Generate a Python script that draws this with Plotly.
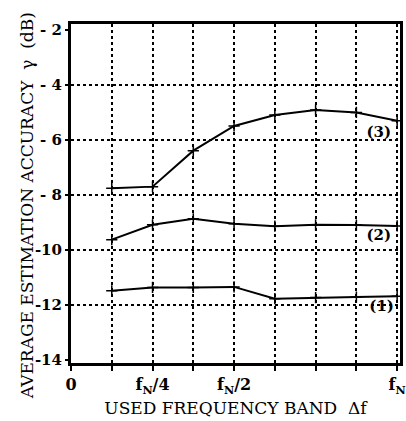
import plotly.graph_objects as go

# x positions in units of fN/8
x_pos = [1, 2, 3, 4, 5, 6, 7, 8]
curve1 = [-11.49, -11.37, -11.37, -11.35, -11.78, -11.74, -11.72, -11.69]
curve2 = [-9.63, -9.09, -8.87, -9.05, -9.14, -9.09, -9.10, -9.13]
curve3 = [-7.76, -7.70, -6.39, -5.49, -5.09, -4.91, -5.00, -5.30]

x_tickvals = [0, 2, 4, 8]
x_ticktext = ["0", "f<sub>N</sub>/4", "f<sub>N</sub>/2", "f<sub>N</sub>"]
y_tickvals = [-2, -4, -6, -8, -10, -12, -14]
y_ticktext = ["- 2", "- 4", "- 6", "- 8", "-10", "-12", "-14"]
y_gridvals = [-4, -6, -8, -10, -12]

labels = ["(1)", "(2)", "(3)"]
label_x = [7.62, 7.55, 7.55]
label_y = [-12.08, -9.52, -5.75]

FONT = "DejaVu Serif"
Y_RANGE = [-14.12, -1.78]

fig = go.Figure()
for ys in (curve1, curve2, curve3):
    fig.add_trace(go.Scatter(
        x=x_pos, y=ys, mode="lines+markers",
        line=dict(color="black", width=2),
        marker=dict(symbol="cross-thin", size=8, line=dict(color="black", width=1.5)),
        showlegend=False, cliponaxis=False,
    ))

fig.add_trace(go.Scatter(
    x=label_x, y=label_y, mode="text", text=labels,
    textfont=dict(family=FONT, size=15, color="black", weight="bold"),
    showlegend=False,
))

# invisible helper trace so the grid-only overlay axis is drawn
fig.add_trace(go.Scatter(
    x=[4], y=[-8], yaxis="y2", mode="markers",
    marker=dict(opacity=0), hoverinfo="skip", showlegend=False,
))

fig.update_layout(
    width=406, height=421,
    margin=dict(l=71, r=0, t=24, b=58),
    paper_bgcolor="white", plot_bgcolor="white",
    font=dict(family=FONT, color="black"),
    xaxis=dict(
        range=[0, 8.07], tickmode="array", tickvals=x_tickvals, ticktext=x_ticktext,
        ticklabeloverflow="allow",
        showgrid=True, gridcolor="black", gridwidth=2, griddash="dot",
        minor=dict(dtick=1, tick0=0, showgrid=True, gridcolor="black", gridwidth=2,
                   griddash="dot", ticks="outside", ticklen=5, tickwidth=2, tickcolor="black"),
        zeroline=False, showline=True, linecolor="black", linewidth=3,
        ticks="outside", ticklen=5, tickwidth=2, tickcolor="black",
        tickfont=dict(family=FONT, size=16, color="black", weight="bold"),
        title=dict(text="USED FREQUENCY BAND  \u0394f", standoff=7,
                   font=dict(family=FONT, size=17, color="black")),
        mirror=True,
    ),
    yaxis=dict(
        range=Y_RANGE, tickmode="array", tickvals=y_tickvals, ticktext=y_ticktext,
        showgrid=False, zeroline=False, showline=True, linecolor="black", linewidth=3,
        ticks="outside", ticklen=3, tickwidth=2, tickcolor="black",
        tickfont=dict(family=FONT, size=15, color="black", weight="bold"),
        mirror=True,
    ),
    yaxis2=dict(
        overlaying="y", range=Y_RANGE,
        tickmode="array", tickvals=y_gridvals, showticklabels=False,
        showgrid=True, gridcolor="black", gridwidth=2, griddash="dot",
        zeroline=False, showline=False, ticks="",
    ),
    annotations=[dict(
        text="AVERAGE ESTIMATION ACCURACY  \u03b3  (dB)",
        xref="paper", yref="paper", x=-0.134, y=0.465,
        xanchor="center", yanchor="middle", textangle=-90, showarrow=False,
        font=dict(family=FONT, size=17, color="black"),
    )],
)

fig.write_html("out.html")
